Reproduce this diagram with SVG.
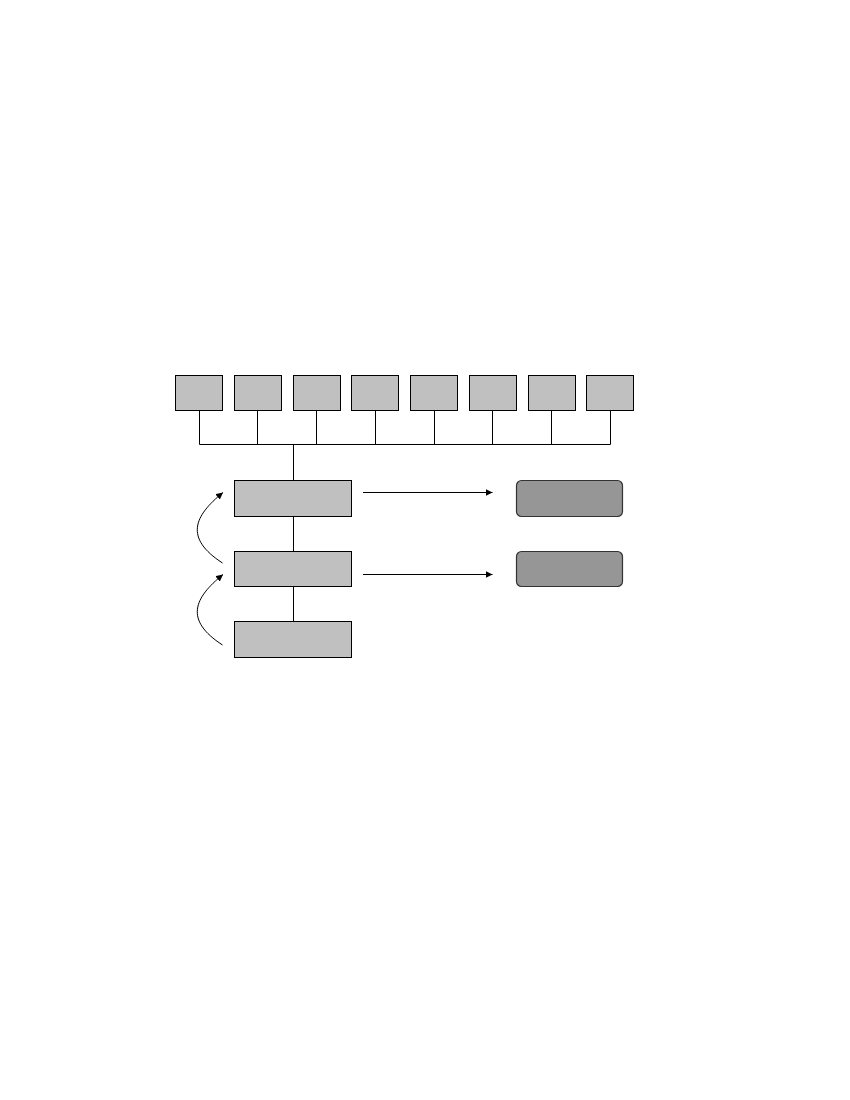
<svg xmlns="http://www.w3.org/2000/svg" width="850" height="1100" viewBox="0 0 850 1100">
<style>
.sm{fill:#c0c0c0;stroke:#000;stroke-width:1}
.dk{fill:#969696;stroke:#333;stroke-width:1.2}
.ln{fill:none;stroke:#000;stroke-width:1}
</style>
<defs>
<marker id="ah" viewBox="0 0 10 10" refX="10" refY="5" markerWidth="7" markerHeight="7" markerUnits="userSpaceOnUse" orient="auto">
<path d="M0,0 L10,5 L0,10 z" fill="#000"/>
</marker>
</defs>
<rect width="850" height="1100" fill="#fff"/>
<g id="connectors">
<path class="ln" d="M199.5,410.5 V444.5 H610.5 V410.5 M257.5,410.5 V444.5 M316.5,410.5 V444.5 M375.5,410.5 V444.5 M434.5,410.5 V444.5 M492.5,410.5 V444.5 M551.5,410.5 V444.5"/>
<path class="ln" d="M293.5,444.5 V480.5"/>
<path class="ln" d="M293.5,516.5 V551.5"/>
<path class="ln" d="M293.5,586.5 V621.5"/>
<path class="ln" d="M363,492.5 H492.5" marker-end="url(#ah)"/>
<path class="ln" d="M363,574.5 H492.5" marker-end="url(#ah)"/>
<path class="ln" d="M222.5,563 C184,538 194,516 223,492.5" marker-end="url(#ah)"/>
<path class="ln" d="M222.5,645 C184,620 194,598 223,574.5" marker-end="url(#ah)"/>
</g>
<g id="n1"><rect class="sm" x="175.5" y="375.5" width="47" height="35"/></g>
<g id="n2"><rect class="sm" x="234.5" y="375.5" width="47" height="35"/></g>
<g id="n3"><rect class="sm" x="293.5" y="375.5" width="47" height="35"/></g>
<g id="n4"><rect class="sm" x="351.5" y="375.5" width="47" height="35"/></g>
<g id="n5"><rect class="sm" x="410.5" y="375.5" width="47" height="35"/></g>
<g id="n6"><rect class="sm" x="469.5" y="375.5" width="47" height="35"/></g>
<g id="n7"><rect class="sm" x="528.5" y="375.5" width="47" height="35"/></g>
<g id="n8"><rect class="sm" x="586.5" y="375.5" width="47" height="35"/></g>
<g id="a"><rect class="sm" x="234.5" y="480.5" width="117" height="36"/></g>
<g id="b"><rect class="sm" x="234.5" y="551.5" width="117" height="35"/></g>
<g id="c"><rect class="sm" x="234.5" y="621.5" width="117" height="36"/></g>
<g id="r1"><rect class="dk" x="516.5" y="480.5" width="106" height="36" rx="5"/></g>
<g id="r2"><rect class="dk" x="516.5" y="551.5" width="106" height="35" rx="5"/></g>
</svg>
